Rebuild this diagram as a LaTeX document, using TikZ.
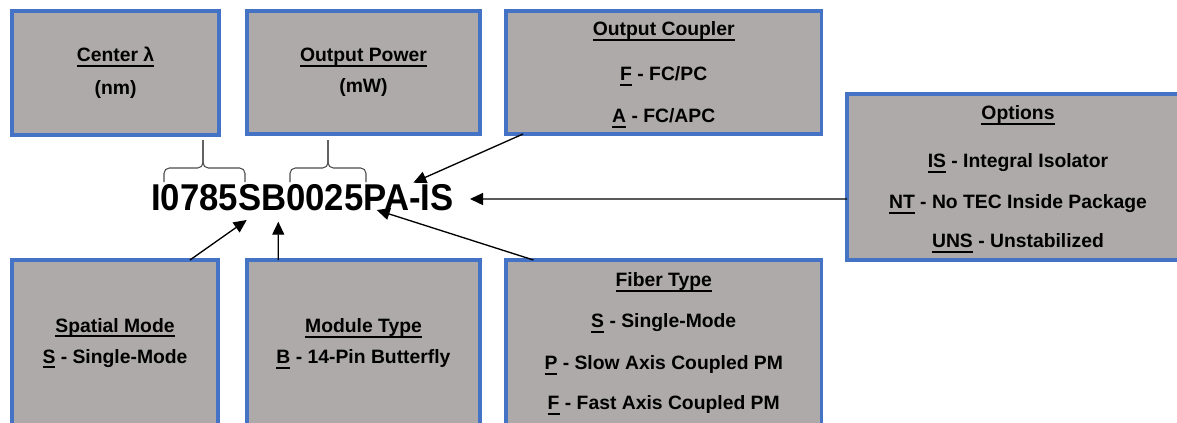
\documentclass[tikz,border=0pt]{standalone}
\usepackage{fontspec}
\setmainfont{Liberation Sans}
\newfontfamily\codefont{Liberation Sans}[FakeStretch=0.93]
\usetikzlibrary{arrows.meta, calc}
\definecolor{boxBlue}{HTML}{4472C4}
\definecolor{boxGrey}{HTML}{AEAAAA}
\newsavebox\keybox
\newcommand{\keyul}[1]{\sbox\keybox{#1}\rlap{\smash{\rule[-3.75pt]{\wd\keybox}{1.5pt}}}\usebox\keybox}
\tikzset{
  infobox/.style   = {draw=boxBlue, fill=boxGrey, line width=2.5pt, anchor=north west,
                      align=center, inner sep=0pt, outer sep=0pt,
                      font=\fontsize{14.5pt}{23.25pt}\selectfont\bfseries},
  codetext/.style  = {inner sep=0pt, anchor=base west,
                      font=\fontsize{28pt}{30pt}\selectfont\codefont\bfseries},
  codebrace/.style = {black!70, line width=0.8pt, rounded corners=4pt},
  pointer/.style   = {-{Triangle[length=9.75pt, width=9pt]}, line width=1pt},
}
\begin{document}
\begin{tikzpicture}[x=0.75pt, y=-0.75pt]
  \useasboundingbox (0,0) rectangle (1177,422);
  \clip (0,0) rectangle (1177,422);
  \node[infobox, minimum width=155.25pt, minimum height=93pt] (cwl) at (12,11)
    {\keyul{Center λ}\\[1.5pt](nm)};
  \node[infobox, minimum width=174.75pt, minimum height=92.25pt] (pwr) at (247,11)
    {\keyul{Output Power}\\(mW)};
  \node[infobox, minimum width=236.6pt, minimum height=92.25pt] (cpl) at (506,11)
    {\keyul{Output Coupler}\\[10.5pt]\keyul{F} - FC/PC\\[8.25pt]\keyul{A} - FC/APC};
  \node[infobox, minimum width=256.5pt, minimum height=124.5pt] (opt) at (847,94)
    {\keyul{Options}\\[12.75pt]\keyul{IS} - Integral Isolator\\[7.5pt]%
     \keyul{NT} - No TEC Inside Package\\[6pt]\keyul{UNS} - Unstabilized};
  \node[infobox, minimum width=154.5pt, minimum height=124.5pt] (spm) at (12,260)
    {\keyul{Spatial Mode}\\\keyul{S} - Single-Mode};
  \node[infobox, minimum width=174.75pt, minimum height=124.5pt] (mod) at (247,260)
    {\keyul{Module Type}\\\keyul{B} - 14-Pin Butterfly};
  \node[infobox, minimum width=236.6pt, minimum height=124.5pt] (fib) at (506,260)
    {\keyul{Fiber Type}\\[7.5pt]\keyul{S} - Single-Mode\\[8.25pt]%
     \keyul{P} - Slow Axis Coupled PM\\[6.75pt]\keyul{F} - Fast Axis Coupled PM};

  \node[codetext] (code) at (151,210) {I0785SB0025PA-IS};
  \coordinate (tipS)  at (246.7,220);
  \coordinate (tipB)  at (278.3,221.7);
  \coordinate (tipP)  at (376.7,210);
  \coordinate (tipA)  at (413.3,182.7);
  \coordinate (tipIS) at (470,199);

  \draw[codebrace] (164,182) -- (164,168) -- (203,168) -- (203,140);
  \draw[codebrace] (245,182) -- (245,168) -- (203,168) -- (203,140);
  \draw[codebrace] (290,182) -- (290,168) -- (328,168) -- (328,140);
  \draw[codebrace] (366,182) -- (366,168) -- (328,168) -- (328,140);

  \draw[pointer] ($(cpl.south west)!0.054!(cpl.south east)$) -- (tipA);
  \draw[pointer] ($(opt.north west)!0.633!(opt.south west)$) -- (tipIS);
  \draw[pointer] ($(spm.north west)!0.864!(spm.north east)$) -- (tipS);
  \draw[pointer] ($(mod.north west)!0.134!(mod.north east)$) -- (tipB);
  \draw[pointer] ($(fib.north west)!0.087!(fib.north east)$) -- (tipP);
\end{tikzpicture}
\end{document}
